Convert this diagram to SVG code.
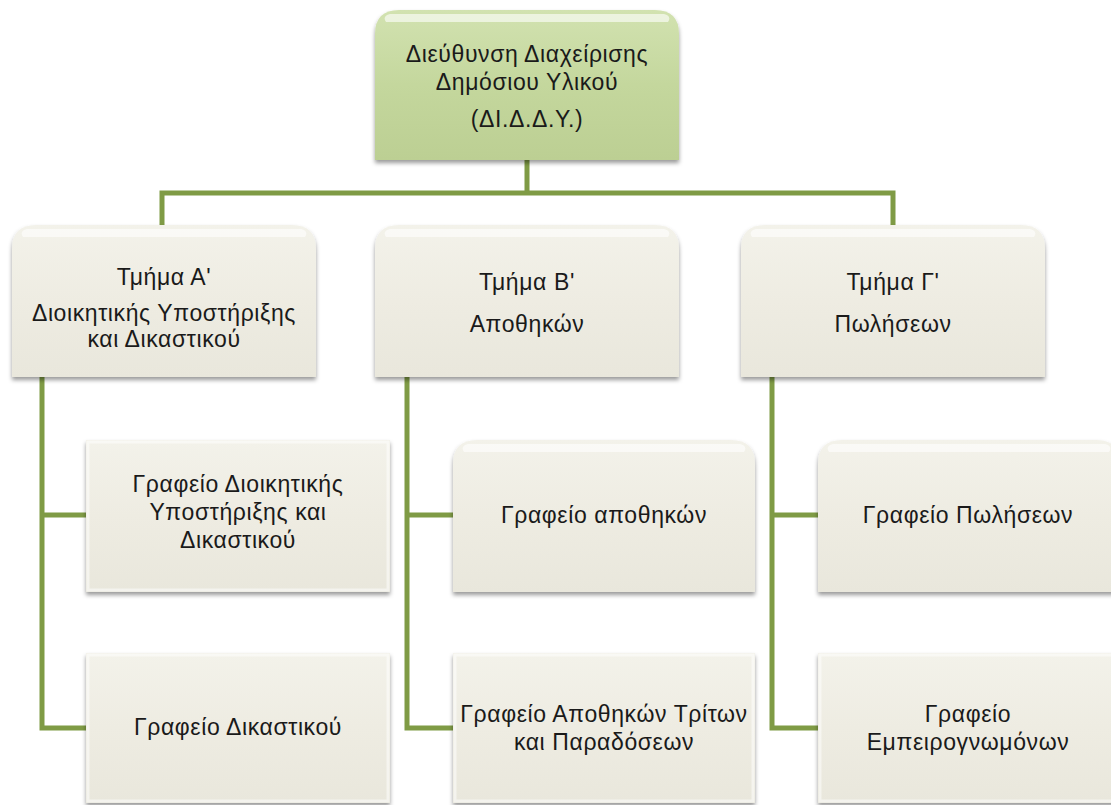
<svg xmlns="http://www.w3.org/2000/svg" width="1111" height="805" viewBox="0 0 1111 805">
<defs>
<linearGradient id="gTop" x1="0" y1="0" x2="0" y2="1">
<stop offset="0" stop-color="#d2e2b0"/>
<stop offset="0.5" stop-color="#c4d79d"/>
<stop offset="1" stop-color="#bccf93"/>
</linearGradient>
<linearGradient id="gBox" x1="0" y1="0" x2="0" y2="1">
<stop offset="0" stop-color="#f3f2ea"/>
<stop offset="0.5" stop-color="#eeece2"/>
<stop offset="1" stop-color="#e9e7dc"/>
</linearGradient>
<filter id="sh" x="-10%" y="-10%" width="120%" height="125%">
<feDropShadow dx="0" dy="3" stdDeviation="2" flood-color="#000" flood-opacity="0.4"/>
</filter>
</defs>
<style>
.top{fill:url(#gTop);filter:url(#sh);}
.box{fill:url(#gBox);filter:url(#sh);}
.hl{fill:#ffffff;opacity:0.6;}
.edge{fill:none;stroke:#ffffff;stroke-opacity:0.5;stroke-width:3;}
.conn{fill:none;stroke:#7f9b45;stroke-width:5;stroke-linejoin:miter;}
text{font-family:"Liberation Sans","Noto Sans",sans-serif;font-size:23px;letter-spacing:0.6px;fill:#1a1a1a;text-anchor:middle;}
</style>
<rect width="1111" height="805" fill="#ffffff"/>
<g id="connectors">
<path class="conn" d="M527,160 V193 M162,226 V193 H893 V226"/>
<path class="conn" d="M42,377 V728 H86 M42,515 H86"/>
<path class="conn" d="M407,377 V728 H453 M407,515 H453"/>
<path class="conn" d="M772,377 V728 H818 M772,515 H818"/>
</g>
<g id="n-didy">
<path class="top" d="M375,160 V34 Q375,10 399,10 H655 Q679,10 679,34 V160 Z"/>
<path class="hl" d="M390,14 H664 Q672,16 668,22 H386 Q382,16 390,14 Z"/>
<text x="527" y="62">Διεύθυνση Διαχείρισης</text>
<text x="527" y="90">Δημόσιου Υλικού</text>
<text x="527" y="127">(ΔΙ.Δ.Δ.Υ.)</text>
</g>
<g id="n-tmA">
<path class="box" d="M12,377 V249 Q12,225 36,225 H292 Q316,225 316,249 V377 Z"/>
<path class="hl" d="M27,229 H301 Q309,231 305,237 H23 Q19,231 27,229 Z"/>
<text x="164" y="285">Τμήμα Α'</text>
<text x="164" y="321">Διοικητικής Υποστήριξης</text>
<text x="164" y="347">και Δικαστικού</text>
</g>
<g id="n-tmB">
<path class="box" d="M375,377 V249 Q375,225 399,225 H655 Q679,225 679,249 V377 Z"/>
<path class="hl" d="M390,229 H664 Q672,231 668,237 H386 Q382,231 390,229 Z"/>
<text x="527" y="290">Τμήμα Β'</text>
<text x="527" y="332">Αποθηκών</text>
</g>
<g id="n-tmC">
<path class="box" d="M741,377 V249 Q741,225 765,225 H1021 Q1045,225 1045,249 V377 Z"/>
<path class="hl" d="M756,229 H1030 Q1038,231 1034,237 H752 Q748,231 756,229 Z"/>
<text x="893" y="290">Τμήμα Γ'</text>
<text x="893" y="332">Πωλήσεων</text>
</g>
<g id="n-a1">
<rect class="box" x="86" y="440" width="304" height="152"/>
<rect class="edge" x="88" y="442" width="300" height="148"/>
<text x="238" y="492">Γραφείο Διοικητικής</text>
<text x="238" y="520">Υποστήριξης και</text>
<text x="238" y="548">Δικαστικού</text>
</g>
<g id="n-a2">
<rect class="box" x="86" y="653" width="304" height="150"/>
<rect class="edge" x="88" y="655" width="300" height="146"/>
<text x="238" y="735">Γραφείο Δικαστικού</text>
</g>
<g id="n-b1">
<path class="box" d="M453,592 V464 Q453,440 477,440 H731 Q755,440 755,464 V592 Z"/>
<path class="hl" d="M468,444 H740 Q748,446 744,452 H464 Q460,446 468,444 Z"/>
<text x="604" y="523">Γραφείο αποθηκών</text>
</g>
<g id="n-b2">
<rect class="box" x="453" y="653" width="302" height="150"/>
<rect class="edge" x="455" y="655" width="298" height="146"/>
<text x="604" y="722">Γραφείο Αποθηκών Τρίτων</text>
<text x="604" y="750">και Παραδόσεων</text>
</g>
<g id="n-c1">
<path class="box" d="M818,592 V464 Q818,440 842,440 H1096 Q1120,440 1120,464 V592 Z"/>
<path class="hl" d="M833,444 H1105 Q1113,446 1109,452 H829 Q825,446 833,444 Z"/>
<text x="968" y="523">Γραφείο Πωλήσεων</text>
</g>
<g id="n-c2">
<rect class="box" x="818" y="653" width="302" height="150"/>
<rect class="edge" x="820" y="655" width="298" height="146"/>
<text x="968" y="722">Γραφείο</text>
<text x="968" y="750">Εμπειρογνωμόνων</text>
</g>
</svg>
